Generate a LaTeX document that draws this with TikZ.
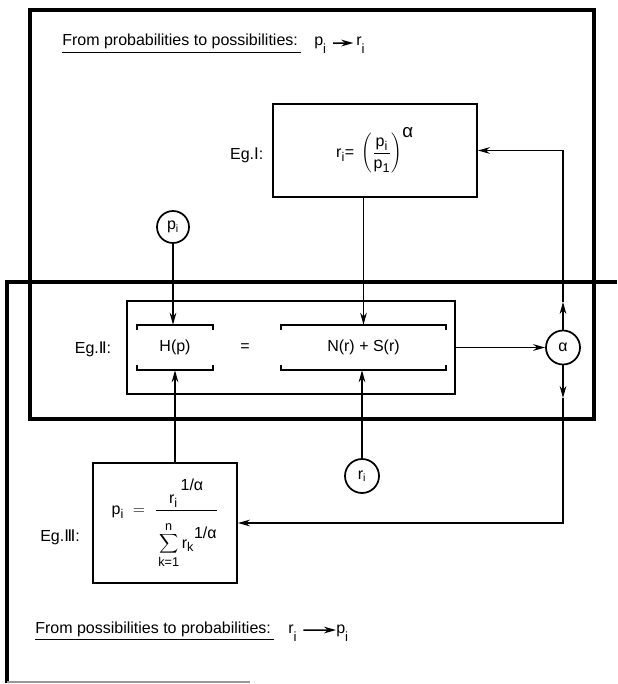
\documentclass[tikz,border=0pt]{standalone}
\usepackage{fontspec}
\setmainfont{Liberation Sans}
\newfontfamily\romfont{DejaVu Sans}
\usetikzlibrary{arrows.meta}
\newcommand\mytx[1]{\hbox{#1}}
\newcommand\mysb[1]{\hbox{\fontsize{9.5}{10}\selectfont #1}}
\newcommand\lowi{\raisebox{-6pt}{\fontsize{10}{11}\selectfont i}}
\begin{document}
\begin{tikzpicture}[x=0.75pt,y=-0.75pt,font=\fontsize{12}{14}\selectfont,
  frame/.style={line width=2.3pt},
  eqbox/.style={draw,line width=1.4pt,inner sep=0pt},
  brk/.style={line width=1.3pt},
  conn/.style={line width=1.1pt},
  arr/.style={conn,-{Stealth[length=9pt,width=5pt]}},
  circ/.style={circle,draw,line width=1.3pt,inner sep=0pt},
  ul/.style={line width=1.1pt}]
\useasboundingbox (0,0) rectangle (617,684);
% frames
\draw[frame] (30,10) rectangle (594,419);
\draw[frame] (617,282) -- (7,282) -- (7,683);
\draw[line width=1pt,black!40] (7,682) -- (250,682);

% titles
\node[anchor=base west,inner sep=0pt] (t1) at (62,46) {From probabilities to possibilities:};
\draw[ul] ([yshift=-5pt]t1.base west) -- ([yshift=-5pt,xshift=2pt]t1.base east);
\node[anchor=base west,inner sep=0pt] (t1p) at (314,46) {p\lowi};
\node[anchor=base west,inner sep=0pt] (t1r) at (356,46) {r\lowi};
\draw[arr] ([xshift=5pt,yshift=2pt]t1p.east) -- ([xshift=-2pt,yshift=2pt]t1r.west);

\node[anchor=base west,inner sep=0pt] (t2) at (35,633) {From possibilities to probabilities:};
\draw[ul] ([yshift=-5pt]t2.base west) -- ([yshift=-5pt,xshift=2pt]t2.base east);
\node[anchor=base west,inner sep=0pt] (t2r) at (288,633) {r\lowi};
\node[anchor=base west,inner sep=0pt] (t2p) at (336,633) {p\lowi};
\draw[arr] ([xshift=5pt,yshift=2pt]t2r.east) -- ([yshift=2pt]t2p.west);

% Eq I
\node[eqbox,minimum width=153pt,minimum height=69.75pt] (eq1) at (375,150.5)
  {$\displaystyle\mytx{r}_{\mysb{i}}\mytx{=}\;\left(\frac{\mytx{p}_{\mysb{i}}}{\mytx{p}_{\mysb{1}}}\right)^{\mytx{\fontsize{14}{15}\selectfont α}}$};
\node[anchor=east] (l1) at (268,155) {Eg.{\romfont Ⅰ}:};

% Eq II
\node[eqbox,minimum width=246pt,minimum height=69.75pt] (eq2) at (291,347.5) {};
\node[minimum width=57pt,minimum height=33.75pt] (hb) at (175,347.5) {H(p)};
\node[minimum width=123.75pt,minimum height=33.75pt] (nb) at (363.5,347.5) {N(r) + S(r)};
\node (eqs) at (245,347.5) {=};
\node (l2) at (93,349) {Eg.{\romfont Ⅱ}:};
\foreach \n in {hb,nb}{
  \draw[brk] ([yshift=-4pt]\n.north west) -- (\n.north west) -- (\n.north east) -- ([yshift=-4pt]\n.north east);
  \draw[brk] ([yshift=4pt]\n.south west) -- (\n.south west) -- (\n.south east) -- ([yshift=4pt]\n.south east);
}

% Eq III
\node[eqbox,minimum width=108pt,minimum height=90pt] (eq3) at (165,523)
  {$\displaystyle \mytx{p}_{\mysb{i}}\; = \;\frac{\mytx{r}_{\mysb{i}}\mytx{\raisebox{10pt}{\,1/α}}}{\rule{0pt}{27pt}\displaystyle\sum\limits_{\mysb{k=1}}^{\mysb{n}}\mytx{r}_{\mysb{k}}\mytx{\raisebox{7pt}{1/α}}}$};
\node (l3) at (60,537) {Eg.{\romfont Ⅲ}:};

% circles
\node[circ,minimum size=24pt] (pi) at (173,227) {p\textsubscript{i}};
\node[circ,minimum size=25.5pt] (al) at (563,347.5) {α};
\node[circ,minimum size=25.5pt] (ri) at (362,476) {r\textsubscript{i}};

% connectors
\draw[arr] (pi) -- (pi |- hb.north);
\draw[arr] (nb.north |- eq1.south) -- (nb.north);
\draw[arr] (eq3.north -| hb.south) -- (hb.south);
\draw[arr] (ri) -- (ri |- nb.south);
\draw[arr] (eq2.east) -- (al);
\coordinate (upm) at (563,302);
\coordinate (dnm) at (563,398);
\draw[arr] (al.north) -- (upm);
\draw[arr] (upm) -- (al |- eq1.east) -- (eq1.east);
\draw[arr] (al.south) -- (dnm);
\draw[arr] (dnm) -- (al |- eq3.east) -- (eq3.east);
\end{tikzpicture}
\end{document}
